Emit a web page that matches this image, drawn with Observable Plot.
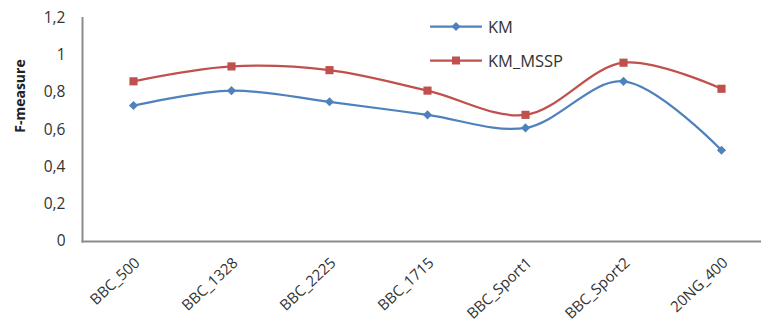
<!DOCTYPE html>
<html>
<head>
<meta charset="utf-8">
<script src="https://cdn.jsdelivr.net/npm/d3@7"></script>
<script src="https://cdn.jsdelivr.net/npm/@observablehq/plot@0.6"></script>
<style>
  html, body { margin: 0; padding: 0; background: #fff; }
  #chart { position: relative; width: 761px; height: 327px; font-family: "Open Sans", sans-serif; }
  #chart svg { display: block; }
  .legend { position: absolute; left: 430px; top: 10px; font-size: 16.5px; color: #333; }
  .legend .row { display: flex; align-items: center; height: 33.5px; }
  .legend .row span { margin-left: 6px; }
</style>
</head>
<body>
<div id="chart"></div>
<script>
// Datasets on the x axis
const datasets = ["BBC_500", "BBC_1328", "BBC_2225", "BBC_1715", "BBC_Sport1", "BBC_Sport2", "20NG_400"];
// F-measure per dataset for each method
const km     = [0.73, 0.81, 0.75, 0.68, 0.61, 0.86, 0.49];
const kmMssp = [0.86, 0.94, 0.92, 0.81, 0.68, 0.96, 0.82];
// Y axis ticks
const yTicks = [0, 0.2, 0.4, 0.6, 0.8, 1, 1.2];

const series = [
  {name: "KM", values: km, color: "#4F81BD", symbol: "diamond2", r: 4.1},
  {name: "KM_MSSP", values: kmMssp, color: "#C0504D", symbol: "square", r: 4.6}
];
const rows = series.flatMap(s => s.values.map((v, i) => ({dataset: datasets[i], value: v, series: s.name})));

const comma = d => String(d).replace(".", ",");

const marks = [
  Plot.axisY({ticks: yTicks, tickFormat: comma, tickSize: 0, tickPadding: 17, fontSize: 15.5, fill: "#333", label: null}),
  Plot.axisX({tickRotate: -43, tickSize: 0, tickPadding: 19, dx: 4, fontSize: 15, fill: "#333", label: null}),
  Plot.frame({anchor: "left", stroke: "#8c8c8c", strokeWidth: 2, strokeOpacity: 1}),
  Plot.frame({anchor: "bottom", stroke: "#8c8c8c", strokeWidth: 2, strokeOpacity: 1}),
  Plot.text(["F-measure"], {frameAnchor: "left", dx: -62, dy: 3, rotate: -90, fontSize: 14, fontWeight: "bold", fill: "#222"})
];
for (const s of series) {
  const data = rows.filter(d => d.series === s.name);
  marks.push(
    Plot.line(data, {x: "dataset", y: "value", stroke: s.color, strokeWidth: 2.25, curve: "catmull-rom"}),
    Plot.dot(data, {x: "dataset", y: "value", symbol: () => s.symbol, fill: s.color, stroke: "none", r: s.r})
  );
}

const chart = Plot.plot({
  width: 761,
  height: 327,
  marginLeft: 82,
  marginRight: 0,
  marginTop: 17.5,
  marginBottom: 86,
  style: {fontFamily: "Open Sans, sans-serif", background: "#fff"},
  x: {type: "point", domain: datasets, range: [132, 721], padding: 0},
  y: {domain: [0, 1.2]},
  symbol: {type: "identity"},
  marks
});

const root = document.getElementById("chart");
root.appendChild(chart);

// Legend in the upper middle of the plot area
const legend = document.createElement("div");
legend.className = "legend";
for (const s of series) {
  const row = document.createElement("div");
  row.className = "row";
  const marker = s.symbol === "square"
    ? `<rect x="22" y="3.5" width="8" height="8" fill="${s.color}"/>`
    : `<path d="M26,3 L30.5,7.5 L26,12 L21.5,7.5 Z" fill="${s.color}"/>`;
  row.innerHTML = `<svg width="52" height="15"><line x1="0" x2="52" y1="7.5" y2="7.5" stroke="${s.color}" stroke-width="2.25"/>${marker}</svg><span>${s.name}</span>`;
  legend.appendChild(row);
}
root.appendChild(legend);
</script>
</body>
</html>
